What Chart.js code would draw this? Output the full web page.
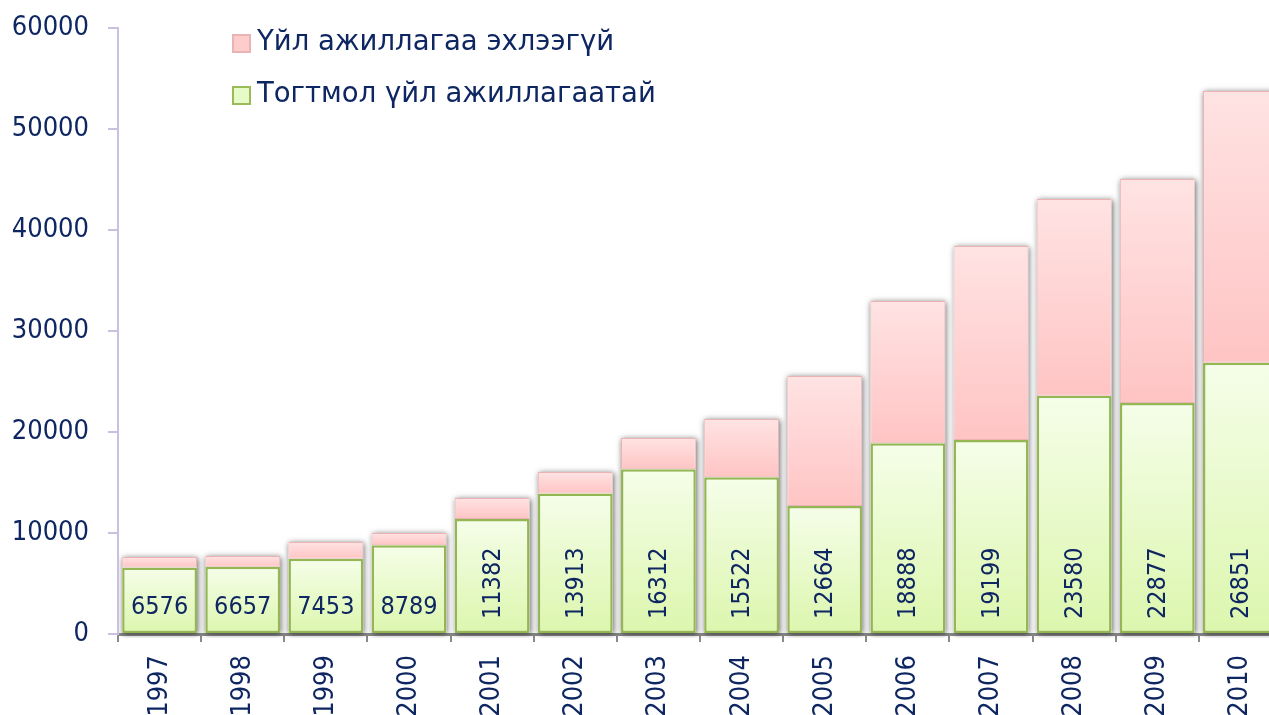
<!DOCTYPE html>
<html>
<head>
<meta charset="utf-8">
<script src="https://cdn.jsdelivr.net/npm/chart.js@4.4.1/dist/chart.umd.min.js"></script>
<style>
  html, body { margin: 0; padding: 0; background: #ffffff; overflow: hidden; }
  #wrap { position: absolute; left: 0; top: 0; width: 1282px; height: 720px; }
</style>
</head>
<body>
<div id="wrap"><canvas id="c"></canvas></div>
<script>
const categories = ['1997','1998','1999','2000','2001','2002','2003','2004','2005','2006','2007','2008','2009','2010'];
const activeValues = [6576, 6657, 7453, 8789, 11382, 13913, 16312, 15522, 12664, 18888, 19199, 23580, 22877, 26851];
const notStartedValues = [1050, 1065, 1655, 1210, 2080, 2125, 3090, 5765, 12880, 14080, 19210, 19485, 22170, 26905];
const seriesNames = ['Тогтмол үйл ажиллагаатай', 'Үйл ажиллагаа эхлээгүй'];
const yMin = 0, yMax = 60000, yStep = 10000;

const FONT = "'DejaVu Sans Condensed', 'Liberation Sans', sans-serif";
const LEGEND_FONT = "'DejaVu Sans', 'Liberation Sans', sans-serif";
const NAVY = '#0e2661';

function barGradient(ctx, topColor, bottomColor, upper) {
  const chart = ctx.chart;
  const ys = chart.scales && chart.scales.y;
  if (!ys || ctx.type !== 'data') return topColor;
  const i = ctx.dataIndex;
  const lo = upper ? activeValues[i] : 0;
  const hi = upper ? activeValues[i] + notStartedValues[i] : activeValues[i];
  const y1 = ys.getPixelForValue(hi), y0 = ys.getPixelForValue(lo);
  if (!isFinite(y1) || !isFinite(y0) || y0 === y1) return topColor;
  const g = chart.ctx.createLinearGradient(0, y1, 0, y0);
  g.addColorStop(0, topColor);
  g.addColorStop(1, bottomColor);
  return g;
}

const shadowPlugin = {
  id: 'barShadow',
  beforeDatasetsDraw(chart) {
    const c = chart.ctx;
    const m0 = chart.getDatasetMeta(0).data;
    const m1 = chart.getDatasetMeta(1).data;
    c.save();
    c.beginPath();
    c.rect(chart.chartArea.left + 1, 0, chart.width, chart.chartArea.bottom + 4);
    c.clip();
    c.shadowColor = 'rgba(0,0,0,0.6)';
    c.shadowBlur = 6;
    c.shadowOffsetX = 1;
    c.shadowOffsetY = 1;
    c.fillStyle = '#ffffff';
    for (let i = 0; i < m0.length; i++) {
      const b0 = m0[i], b1 = m1[i];
      const left = b0.x - b0.width / 2;
      c.fillRect(left, b1.y, b0.width, b0.base - b1.y);
    }
    c.restore();
  }
};

const labelPlugin = {
  id: 'valueLabels',
  afterDatasetsDraw(chart) {
    const c = chart.ctx;
    const meta = chart.getDatasetMeta(0).data;
    c.save();
    c.font = '25px ' + FONT;
    c.fillStyle = NAVY;
    meta.forEach((bar, i) => {
      const txt = String(activeValues[i]);
      const w = c.measureText(txt).width;
      if (w <= bar.width - 6) {
        c.textAlign = 'center';
        c.textBaseline = 'middle';
        c.fillText(txt, bar.x, bar.base - 26);
      } else {
        c.save();
        c.translate(bar.x + 1, bar.base - 14);
        c.rotate(-Math.PI / 2);
        c.textAlign = 'left';
        c.textBaseline = 'middle';
        c.fillText(txt, 0, 0);
        c.restore();
      }
    });
    c.restore();
  }
};

const legendPlugin = {
  id: 'customLegend',
  afterDraw(chart) {
    const c = chart.ctx;
    const items = [
      { text: seriesNames[1], fill: '#ffcccc', stroke: '#eab4b4', y: 43 },
      { text: seriesNames[0], fill: '#e6fbc8', stroke: '#9bbb59', y: 95 }
    ];
    c.save();
    c.font = '27.5px ' + LEGEND_FONT;
    c.textBaseline = 'middle';
    c.textAlign = 'left';
    items.forEach(it => {
      c.fillStyle = it.fill;
      c.fillRect(233, it.y - 8, 17, 17);
      c.strokeStyle = it.stroke;
      c.lineWidth = 2;
      c.strokeRect(233, it.y - 8, 17, 17);
      c.fillStyle = NAVY;
      c.fillText(it.text, 257, it.y);
    });
    c.restore();
  }
};

new Chart(document.getElementById('c'), {
  type: 'bar',
  data: {
    labels: categories,
    datasets: [
      {
        label: seriesNames[0],
        data: activeValues,
        backgroundColor: (ctx) => barGradient(ctx, '#f5fee9', '#dcf6ad', false),
        borderColor: '#94b653',
        borderWidth: 2.5,
        borderSkipped: false,
        categoryPercentage: 1.0,
        barPercentage: 0.9
      },
      {
        label: seriesNames[1],
        data: notStartedValues,
        backgroundColor: (ctx) => barGradient(ctx, '#ffe3e3', '#ffc4c4', true),
        borderColor: '#eab4b4',
        borderWidth: 1,
        borderSkipped: false,
        categoryPercentage: 1.0,
        barPercentage: 0.9
      }
    ]
  },
  options: {
    responsive: true,
    maintainAspectRatio: false,
    animation: false,
    layout: { padding: { top: 28, right: 0, left: 0, bottom: 0 } },
    plugins: { legend: { display: false }, tooltip: { enabled: false } },
    scales: {
      x: {
        stacked: true,
        afterFit(scale) { scale.height = 86; scale.paddingRight = 0; scale.paddingLeft = 0; },
        grid: { display: true, offset: true, drawOnChartArea: false, drawTicks: true, tickLength: 8, color: '#8a8a8a', lineWidth: 2 },
        border: { display: true, color: '#8a8a8a', width: 3 },
        ticks: { autoSkip: false, minRotation: 90, maxRotation: 90, padding: 13, color: NAVY, font: { family: FONT, size: 27 } }
      },
      y: {
        stacked: true,
        min: yMin,
        max: yMax,
        afterFit(scale) { scale.width = 118; scale.paddingTop = 0; scale.paddingBottom = 0; },
        grid: { display: true, drawOnChartArea: false, drawTicks: true, tickLength: 10, color: '#cbc0e0', lineWidth: 2 },
        border: { display: true, color: '#cbc0e0', width: 2 },
        ticks: { stepSize: yStep, padding: 19, color: NAVY, font: { family: FONT, size: 27 }, callback: (v) => String(v) }
      }
    }
  },
  plugins: [shadowPlugin, labelPlugin, legendPlugin]
});
</script>
</body>
</html>
